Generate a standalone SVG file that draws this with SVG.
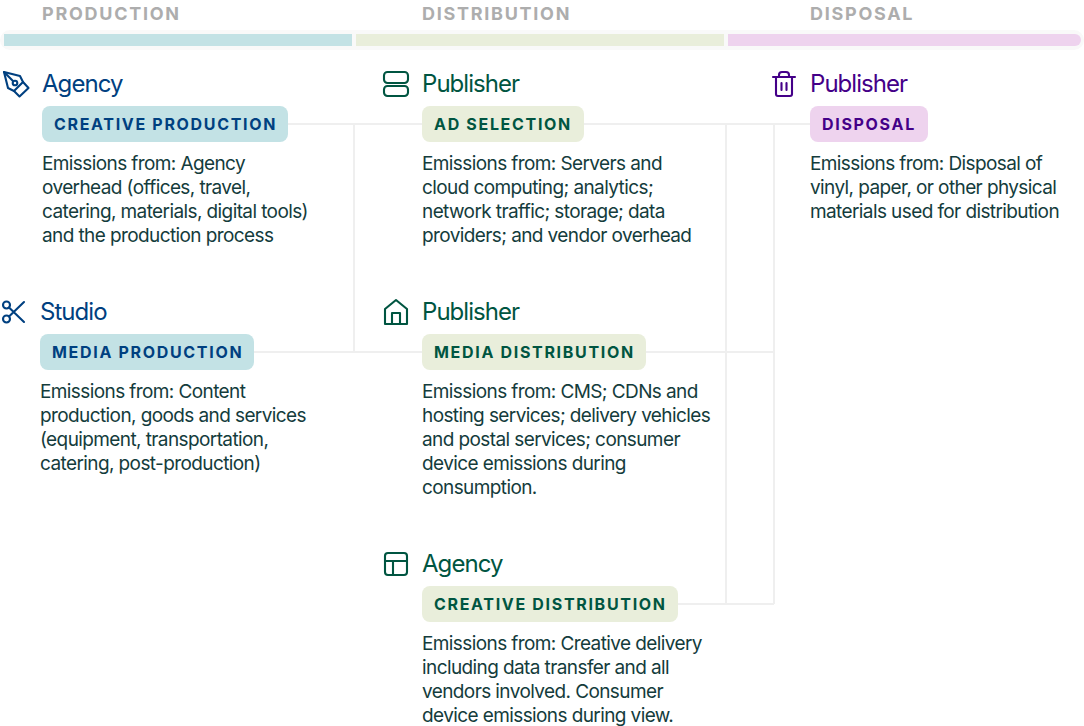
<svg xmlns="http://www.w3.org/2000/svg" width="1084" height="726" viewBox="0 0 1084 726">
<style>
text{font-family:"Inter","Liberation Sans",sans-serif}
.ph{font-size:18px;font-weight:700;letter-spacing:1.72px;fill:#adadad}
.t{font-size:24px;letter-spacing:-.95px}
.b{font-size:19px;fill:#143c3c;letter-spacing:-.6px}
.p{font-size:16px;font-weight:700;letter-spacing:1.68px}
.ic{fill:none;stroke-width:2.1;stroke-linecap:round;stroke-linejoin:round}
.blue{fill:#004080}.green{fill:#005541}.purple{fill:#440088}
.sb{stroke:#004080}.sg{stroke:#005541}.sp{stroke:#440088}
.c{fill:none;stroke:#efefef;stroke-width:2}
</style>
<g id="header">
<text class="ph" x="42" y="20">PRODUCTION</text>
<text class="ph" x="422" y="20">DISTRIBUTION</text>
<text class="ph" x="810" y="20">DISPOSAL</text>
<rect x="0" y="30" width="1084" height="20" rx="10" fill="#f9f9f9"/>
<rect x="4" y="34" width="348" height="12" fill="#c3e2e5"/>
<rect x="356" y="34" width="368" height="12" fill="#e9eedb"/>
<path d="M728 34H1075a6 6 0 0 1 0 12H728z" fill="#eed3ee"/>
</g>
<g id="connectors">
<path class="c" d="M288 124H422M584 124H810M354 124V352M254 352H422M646 352H774M726 124V604M774 124V604M678 604H774"/>
</g>
<g id="agency-production">
<g class="ic sb"><path d="M4 72L20 76L23 82L14 91L8 88Z"/><path d="M23 82L28.5 88L19.5 96.5L14 91"/><path d="M4 72L13 81"/><circle cx="15" cy="83" r="2.3"/></g>
<text class="t blue" x="42" y="92">Agency</text>
<rect x="42" y="106" width="246" height="36" rx="8" fill="#c3e2e5"/>
<text class="p blue" x="54" y="130">CREATIVE PRODUCTION</text>
<text class="b"><tspan x="42" y="170">Emissions from: Agency</tspan><tspan x="42" y="194">overhead (offices, travel,</tspan><tspan x="42" y="218">catering, materials, digital tools)</tspan><tspan x="42" y="242">and the production process</tspan></text>
</g>
<g id="studio-production">
<g class="ic sb"><circle cx="6.500" cy="305" r="3.500"/><circle cx="6.500" cy="319" r="3.500"/><path d="M9 307.500L24 322M9 316.500L24 302"/></g>
<text class="t blue" x="40" y="320">Studio</text>
<rect x="40" y="334" width="214" height="36" rx="8" fill="#c3e2e5"/>
<text class="p blue" x="52" y="358">MEDIA PRODUCTION</text>
<text class="b"><tspan x="40" y="398">Emissions from: Content</tspan><tspan x="40" y="422">production, goods and services</tspan><tspan x="40" y="446">(equipment, transportation,</tspan><tspan x="40" y="470">catering, post-production)</tspan></text>
</g>
<g id="publisher-ad">
<g class="ic sg"><rect x="384" y="72" width="24" height="11" rx="3.5"/><rect x="384" y="86" width="24" height="10" rx="3.5"/></g>
<text class="t green" x="422" y="92">Publisher</text>
<rect x="422" y="106" width="162" height="36" rx="8" fill="#e9eedb"/>
<text class="p green" x="434" y="130">AD SELECTION</text>
<text class="b"><tspan x="422" y="170">Emissions from: Servers and</tspan><tspan x="422" y="194">cloud computing; analytics;</tspan><tspan x="422" y="218">network traffic; storage; data</tspan><tspan x="422" y="242">providers; and vendor overhead</tspan></text>
</g>
<g id="publisher-media">
<g class="ic sg"><path d="M385 309L396 300L407 309V324H385Z"/><path d="M392 324V313H400V324"/></g>
<text class="t green" x="422" y="320">Publisher</text>
<rect x="422" y="334" width="224" height="36" rx="8" fill="#e9eedb"/>
<text class="p green" x="434" y="358">MEDIA DISTRIBUTION</text>
<text class="b"><tspan x="422" y="398">Emissions from: CMS; CDNs and</tspan><tspan x="422" y="422">hosting services; delivery vehicles</tspan><tspan x="422" y="446">and postal services; consumer</tspan><tspan x="422" y="470">device emissions during</tspan><tspan x="422" y="494">consumption.</tspan></text>
</g>
<g id="agency-distribution">
<g class="ic sg"><rect x="385" y="553" width="22" height="22" rx="3"/><path d="M385 561H407M393 561V575"/></g>
<text class="t green" x="422" y="572">Agency</text>
<rect x="422" y="586" width="256" height="36" rx="8" fill="#e9eedb"/>
<text class="p green" x="434" y="610">CREATIVE DISTRIBUTION</text>
<text class="b"><tspan x="422" y="650">Emissions from: Creative delivery</tspan><tspan x="422" y="674">including data transfer and all</tspan><tspan x="422" y="698">vendors involved. Consumer</tspan><tspan x="422" y="722">device emissions during view.</tspan></text>
</g>
<g id="publisher-disposal">
<g class="ic sp"><path d="M773 77H795M776 77V94a2 2 0 0 0 2 2H790a2 2 0 0 0 2-2V77M779 77V75a3 3 0 0 1 3-3H786a3 3 0 0 1 3 3V77M781.500 83V90M786.500 83V90"/></g>
<text class="t purple" x="810" y="92">Publisher</text>
<rect x="810" y="106" width="118" height="36" rx="8" fill="#eed3ee"/>
<text class="p purple" x="822" y="130">DISPOSAL</text>
<text class="b"><tspan x="810" y="170">Emissions from: Disposal of</tspan><tspan x="810" y="194">vinyl, paper, or other physical</tspan><tspan x="810" y="218">materials used for distribution</tspan></text>
</g>
</svg>
